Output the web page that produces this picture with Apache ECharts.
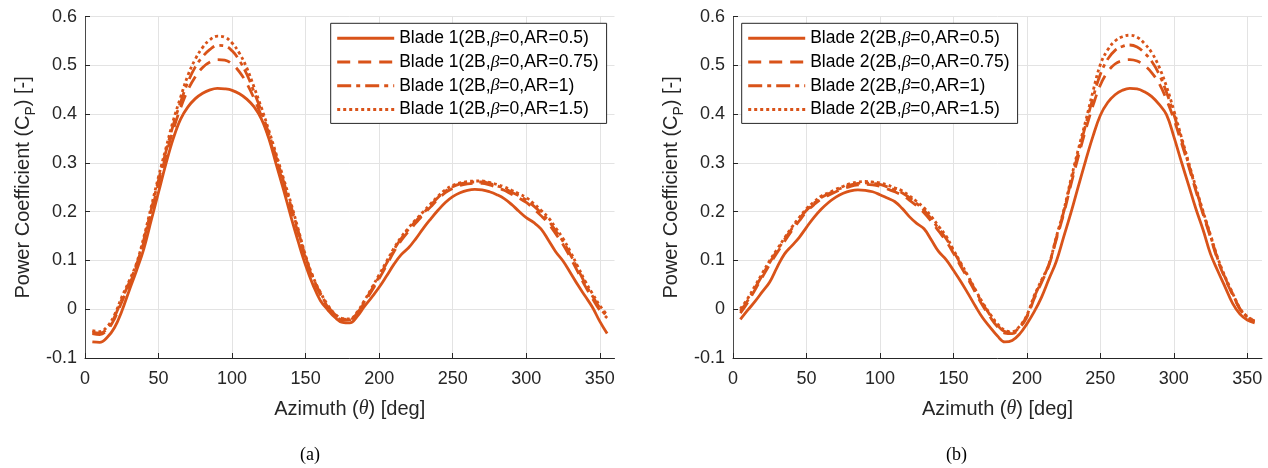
<!DOCTYPE html>
<html>
<head>
<meta charset="utf-8">
<script src="https://cdn.jsdelivr.net/npm/echarts@6/dist/echarts.min.js"></script>
<style>
html,body{margin:0;padding:0;background:#fff;}
#chart{width:1268px;height:468px;}
</style>
</head>
<body>
<div id="chart"></div>
<script>
// ---- data ----
const theta = [5,10,15,20,25,30,35,40,45,50,55,60,65,70,75,80,85,90,95,100,105,110,115,120,125,130,135,140,145,150,155,160,165,170,175,180,185,190,195,200,205,210,215,220,225,230,235,240,245,250,255,260,265,270,275,280,285,290,295,300,305,310,315,320,325,330,335,340,345,350,355];
const xTicks = [0,50,100,150,200,250,300,350];
const yTicks = [-0.1,0,0.1,0.2,0.3,0.4,0.5,0.6];

const namesB1 = ['Blade 1(2B,β=0,AR=0.5)','Blade 1(2B,β=0,AR=0.75)','Blade 1(2B,β=0,AR=1)','Blade 1(2B,β=0,AR=1.5)'];
const namesB2 = ['Blade 2(2B,β=0,AR=0.5)','Blade 2(2B,β=0,AR=0.75)','Blade 2(2B,β=0,AR=1)','Blade 2(2B,β=0,AR=1.5)'];

const b1_ar05 = [-0.067,-0.068,-0.058,-0.038,-0.004,0.038,0.079,0.124,0.182,0.24,0.298,0.35,0.39,0.415,0.432,0.443,0.45,0.453,0.452,0.449,0.442,0.431,0.415,0.39,0.35,0.297,0.245,0.19,0.138,0.09,0.05,0.018,-0.001,-0.017,-0.027,-0.028,-0.015,0.006,0.025,0.045,0.068,0.092,0.112,0.126,0.145,0.166,0.185,0.203,0.219,0.231,0.239,0.244,0.246,0.245,0.241,0.235,0.227,0.215,0.201,0.188,0.178,0.165,0.142,0.118,0.099,0.075,0.05,0.027,0.004,-0.025,-0.05];
const b1_ar075 = [-0.05,-0.052,-0.043,-0.02,0.015,0.05,0.087,0.138,0.198,0.258,0.315,0.368,0.413,0.45,0.477,0.496,0.507,0.512,0.511,0.503,0.487,0.463,0.432,0.396,0.353,0.306,0.256,0.207,0.155,0.104,0.062,0.03,0.005,-0.013,-0.022,-0.022,-0.01,0.014,0.038,0.063,0.09,0.118,0.141,0.16,0.177,0.194,0.21,0.226,0.239,0.248,0.254,0.257,0.258,0.258,0.255,0.25,0.244,0.236,0.228,0.219,0.206,0.192,0.176,0.155,0.133,0.106,0.077,0.048,0.022,-0.002,-0.018];
const b1_ar1 = [-0.047,-0.049,-0.04,-0.016,0.02,0.054,0.091,0.143,0.204,0.265,0.323,0.378,0.425,0.466,0.497,0.518,0.533,0.541,0.54,0.53,0.51,0.482,0.445,0.405,0.36,0.312,0.262,0.212,0.16,0.107,0.065,0.033,0.007,-0.011,-0.02,-0.021,-0.008,0.016,0.041,0.067,0.094,0.122,0.145,0.164,0.181,0.197,0.213,0.229,0.242,0.251,0.257,0.26,0.261,0.261,0.258,0.253,0.248,0.24,0.233,0.224,0.212,0.198,0.182,0.161,0.139,0.112,0.083,0.053,0.027,0.003,-0.015];
const b1_ar15 = [-0.044,-0.046,-0.036,-0.012,0.025,0.058,0.094,0.148,0.21,0.272,0.33,0.387,0.435,0.48,0.513,0.537,0.553,0.56,0.558,0.546,0.525,0.495,0.455,0.413,0.367,0.318,0.268,0.218,0.164,0.11,0.067,0.035,0.009,-0.01,-0.019,-0.02,-0.006,0.018,0.044,0.071,0.098,0.125,0.148,0.167,0.184,0.2,0.216,0.232,0.245,0.254,0.259,0.262,0.263,0.263,0.26,0.256,0.251,0.244,0.237,0.229,0.217,0.203,0.188,0.167,0.145,0.118,0.088,0.058,0.032,0.008,-0.012];

const b2_ar05 = [-0.021,-0.002,0.016,0.036,0.056,0.086,0.113,0.13,0.147,0.168,0.188,0.205,0.219,0.23,0.238,0.243,0.245,0.244,0.241,0.235,0.228,0.221,0.207,0.19,0.176,0.165,0.142,0.118,0.102,0.08,0.057,0.032,0.006,-0.018,-0.037,-0.055,-0.067,-0.064,-0.051,-0.03,-0.005,0.025,0.062,0.098,0.148,0.198,0.252,0.305,0.355,0.398,0.424,0.44,0.449,0.453,0.452,0.446,0.436,0.42,0.399,0.354,0.304,0.255,0.206,0.162,0.113,0.078,0.045,0.012,-0.01,-0.022,-0.028];
const b2_ar075 = [-0.008,0.014,0.04,0.066,0.092,0.116,0.139,0.161,0.181,0.2,0.214,0.226,0.234,0.241,0.247,0.252,0.255,0.256,0.255,0.252,0.247,0.241,0.234,0.224,0.212,0.198,0.18,0.16,0.14,0.115,0.088,0.062,0.034,0.007,-0.016,-0.036,-0.049,-0.05,-0.038,-0.016,0.022,0.055,0.09,0.143,0.195,0.256,0.313,0.368,0.418,0.46,0.487,0.503,0.51,0.512,0.509,0.5,0.485,0.463,0.43,0.39,0.343,0.294,0.243,0.194,0.147,0.1,0.062,0.03,0.0,-0.017,-0.025];
const b2_ar1 = [-0.004,0.018,0.044,0.07,0.096,0.12,0.143,0.165,0.185,0.203,0.217,0.229,0.237,0.244,0.25,0.255,0.258,0.259,0.258,0.256,0.251,0.245,0.239,0.229,0.217,0.203,0.185,0.165,0.145,0.12,0.092,0.066,0.038,0.011,-0.012,-0.033,-0.046,-0.048,-0.036,-0.014,0.025,0.058,0.092,0.146,0.199,0.262,0.321,0.378,0.434,0.482,0.513,0.531,0.539,0.542,0.538,0.526,0.508,0.482,0.445,0.4,0.35,0.298,0.247,0.197,0.15,0.102,0.064,0.032,0.001,-0.016,-0.024];
const b2_ar15 = [0.001,0.022,0.048,0.074,0.1,0.123,0.146,0.168,0.188,0.206,0.22,0.232,0.239,0.246,0.252,0.258,0.261,0.262,0.261,0.259,0.255,0.249,0.243,0.233,0.221,0.208,0.19,0.17,0.15,0.122,0.095,0.068,0.04,0.013,-0.01,-0.03,-0.043,-0.046,-0.035,-0.012,0.028,0.06,0.092,0.148,0.202,0.267,0.328,0.386,0.447,0.502,0.532,0.55,0.559,0.562,0.558,0.545,0.526,0.497,0.457,0.408,0.355,0.302,0.25,0.2,0.152,0.104,0.066,0.033,0.002,-0.015,-0.023];

// ---- style ----
const COLOR = '#D95319';
const AX = '#262626';
const dashStyles = ['solid', [13, 8], [14, 5, 4, 5], [3, 3]];
const FONT = '"Liberation Sans", Arial, Helvetica, sans-serif';

function pairs(vals){ return theta.map((t,i)=>[t, vals[i]]); }

function makeSeries(names, arrays, idx){
  return names.map((n,k)=>({
    name: n, type: 'line', xAxisIndex: idx, yAxisIndex: idx,
    data: pairs(arrays[k]), symbol: 'none', showSymbol: false,
    smooth: 0.4, animation: false, z: 2 + k,
    itemStyle: {color: COLOR},
    lineStyle: {color: COLOR, width: 2.8, type: dashStyles[k], cap: 'butt'}
  }));
}

function xAxis(idx){
  return {
    gridIndex: idx, type: 'value', min: 0, max: 360, interval: 50,
    axisLine: {show: true, onZero: false, lineStyle: {color: AX, width: 1}},
    axisTick: {show: true, inside: true, length: 5, customValues: xTicks, lineStyle: {color: AX}},
    axisLabel: {customValues: xTicks, fontSize: 18, color: AX, margin: 12, fontFamily: FONT},
    splitLine: {show: true, lineStyle: {color: '#e3e3e3', width: 1}},
    name: 'Azimuth ({it|θ}) [deg]', nameLocation: 'middle', nameGap: 41,
    nameTextStyle: {fontSize: 20, color: AX, fontFamily: FONT,
      rich: {it: {fontStyle: 'italic', fontFamily: '"Liberation Serif", serif', fontSize: 20, color: AX}}}
  };
}
function yAxis(idx){
  return {
    gridIndex: idx, type: 'value', min: -0.1, max: 0.6, interval: 0.1,
    axisLine: {show: true, onZero: false, lineStyle: {color: '#4a4a4a', width: 1}},
    axisTick: {show: true, inside: true, length: 5, customValues: yTicks, lineStyle: {color: AX}},
    axisLabel: {customValues: yTicks, fontSize: 18, color: AX, margin: 8, fontFamily: FONT,
      formatter: v => String(Math.round(v*10)/10)},
    splitLine: {show: true, lineStyle: {color: '#e3e3e3', width: 1}},
    name: 'Power Coefficient (C{sub|P}) [-]', nameLocation: 'middle', nameGap: 47, nameRotate: 90,
    nameTextStyle: {fontSize: 20, color: AX, fontFamily: FONT, lineHeight: 30,
      rich: {sub: {fontSize: 14, lineHeight: 14, verticalAlign: 'bottom', color: AX, fontFamily: FONT}}}
  };
}
function legend(names, left){
  return {
    data: names, orient: 'vertical', left: left, top: 23.3,
    padding: [5, 8, 4, 5], itemWidth: 57, itemHeight: 14, itemGap: 3.7,
    selectedMode: false, backgroundColor: '#fff',
    borderColor: AX, borderWidth: 1, borderRadius: 0,
    itemStyle: {opacity: 0, borderWidth: 0},
    lineStyle: {width: 3},
    formatter: n => n.replace('β', '{b|β}'),
    textStyle: {fontSize: 17.5, color: '#000', fontFamily: FONT, lineHeight: 20,
      rich: {b: {fontStyle: 'italic', fontFamily: '"Liberation Serif", serif', fontSize: 17.5, color: '#000', lineHeight: 20}}}
  };
}

const chart = echarts.init(document.getElementById('chart'), null, {renderer: 'canvas'});
chart.setOption({
  animation: false,
  backgroundColor: '#fff',
  grid: [
    {left: 85, right: 653.5, top: 16.7, bottom: 110, containLabel: false},
    {left: 733, right: 6, top: 16.7, bottom: 110, containLabel: false}
  ],
  xAxis: [xAxis(0), xAxis(1)],
  yAxis: [yAxis(0), yAxis(1)],
  legend: [legend(namesB1, 330.7), legend(namesB2, 741.7)],
  series: makeSeries(namesB1, [b1_ar05, b1_ar075, b1_ar1, b1_ar15], 0)
    .concat(makeSeries(namesB2, [b2_ar05, b2_ar075, b2_ar1, b2_ar15], 1)),
  graphic: [
    {type: 'text', left: 300, top: 446, style: {text: '(a)', font: '18px "Liberation Serif", serif', fill: '#000'}},
    {type: 'text', left: 946, top: 446, style: {text: '(b)', font: '18px "Liberation Serif", serif', fill: '#000'}}
  ]
});
</script>
</body>
</html>
